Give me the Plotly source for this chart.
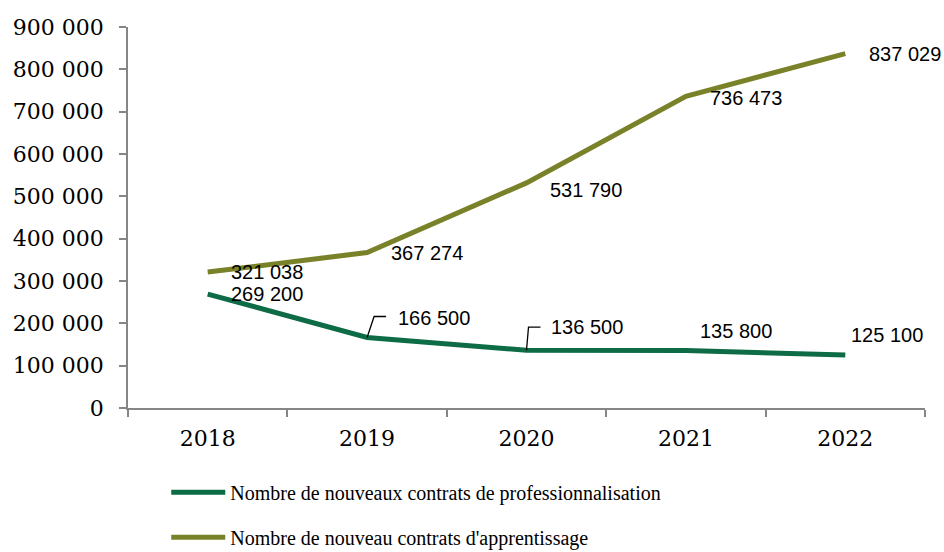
import plotly.graph_objects as go

years = ["2018", "2019", "2020", "2021", "2022"]
pro = [269200, 166500, 136500, 135800, 125100]
app = [321038, 367274, 531790, 736473, 837029]
name_pro = "Nombre de nouveaux contrats de professionnalisation"
name_app = "Nombre de nouveau contrats d'apprentissage"

c_pro = "#0d6b45"
c_app = "#7a8229"

fig = go.Figure()
fig.add_trace(go.Scatter(x=years, y=pro, mode="lines", name=name_pro,
                         line=dict(color=c_pro, width=5), legendgroup="a"))
fig.add_trace(go.Scatter(x=years, y=app, mode="lines", name=name_app,
                         line=dict(color=c_app, width=5), legendgroup="b"))

def fmt(v):
    return f"{v:,}".replace(",", " ")

lab_font = dict(family="Liberation Sans", size=20, color="#000")
# label offsets in pixels (dx, dy) relative to the point
app_off = [(21, 0), (22, 0), (21, -7), (22, -2), (22, 0)]
pro_off = [(21, 0), (29, 20), (22, 23), (12, 20), (4, 20)]
ann = []
for i, v in enumerate(app):
    dx, dy = app_off[i]
    ann.append(dict(x=i, y=v, xref="x", yref="y", text=fmt(v), showarrow=True,
                    arrowcolor="rgba(0,0,0,0)", ax=dx, ay=-dy, xanchor="left",
                    yanchor="middle", font=lab_font))
for i, v in enumerate(pro):
    dx, dy = pro_off[i]
    ann.append(dict(x=i, y=v, xref="x", yref="y", text=fmt(v), showarrow=True,
                    arrowcolor="rgba(0,0,0,0)", ax=dx, ay=-dy, xanchor="left",
                    yanchor="middle", font=lab_font))

shapes = []
# leader lines for 2019 and 2020 professionalisation labels
for i, path in [(1, "M0,0 L7,21 L19,21"), (2, "M0,0 L2,23 L14,23")]:
    shapes.append(dict(type="path", xref="x", yref="y", xsizemode="pixel", ysizemode="pixel",
                       xanchor=i, yanchor=pro[i], path=path,
                       line=dict(color="#000", width=1.3)))

axis_font = dict(family="DejaVu Serif", size=22, color="#000")
fig.update_layout(
    width=944, height=552,
    margin=dict(l=128, r=19, t=27, b=144, autoexpand=False),
    plot_bgcolor="white", paper_bgcolor="white",
    separators=", ",
    showlegend=True,
    legend=dict(orientation="v", x=0.048, xanchor="left", y=-0.17, yanchor="top",
                font=dict(family="Liberation Serif", size=20, color="#000"),
                tracegroupgap=16, itemwidth=54, bgcolor="rgba(0,0,0,0)"),
    annotations=ann, shapes=shapes,
    xaxis=dict(type="category", range=[-0.5, 4.5], showline=True, linecolor="#868686",
               linewidth=1.5, ticks="outside", tickson="boundaries", ticklen=7,
               tickcolor="#868686", tickwidth=1.5, showgrid=False, zeroline=False,
               tickfont=axis_font, ticklabelstandoff=10, automargin=False),
    yaxis=dict(range=[0, 900000], dtick=100000, tickformat=",d", showline=True,
               linecolor="#868686", linewidth=1.5, ticks="outside", ticklen=7,
               tickcolor="#868686", tickwidth=1.5, showgrid=False, zeroline=False,
               tickfont=axis_font, ticklabelstandoff=11, automargin=False),
)

fig.write_html("out.html", config={"displayModeBar": False},
               post_script="document.body.style.margin='0px';")
